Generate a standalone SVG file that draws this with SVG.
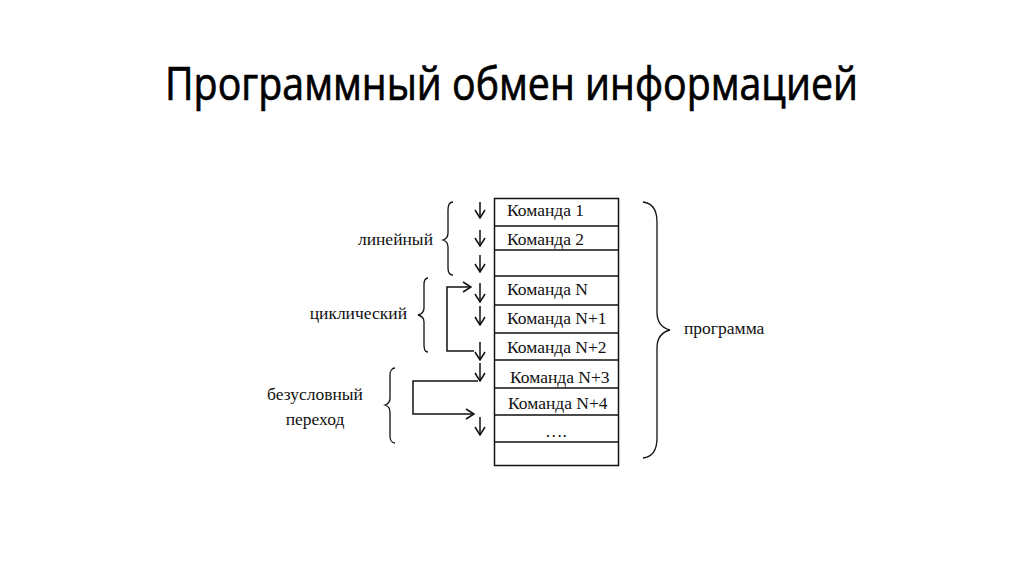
<svg xmlns="http://www.w3.org/2000/svg" width="1024" height="574" viewBox="0 0 1024 574">
<style>
.t{font-family:"Liberation Serif","Times New Roman",serif;font-size:17.5px;fill:#111}
.ln{fill:none;stroke:#111;stroke-width:1.5}
.br{fill:none;stroke:#111;stroke-width:1.3}
.title{font-family:"Open Sans","Noto Sans",sans-serif;font-size:45px;fill:#000;stroke:#000;stroke-width:0.7}
</style>
<defs>
<marker id="ah" viewBox="0 0 10 12" refX="9" refY="6" markerWidth="10" markerHeight="12" markerUnits="userSpaceOnUse" orient="auto">
<path d="M1 1 L9 6 L1 11" fill="none" stroke="#111" stroke-width="1.5"/>
</marker>
</defs>
<rect width="1024" height="574" fill="#fff"/>
<text class="title" x="165" y="100" textLength="693" lengthAdjust="spacingAndGlyphs">Программный обмен информацией</text>

<g id="table">
<rect x="494.5" y="198.5" width="124" height="267" class="ln"/>
<path class="ln" d="M494.5 226H618.5M494.5 250H618.5M494.5 276H618.5M494.5 305H618.5M494.5 333H618.5M494.5 360H618.5M494.5 388H618.5M494.5 415H618.5M494.5 442H618.5"/>
</g>
<g id="cmd1"><text class="t" x="507" y="216">Команда 1</text></g>
<g id="cmd2"><text class="t" x="507" y="245">Команда 2</text></g>
<g id="cmdN"><text class="t" x="507" y="295">Команда N</text></g>
<g id="cmdN1"><text class="t" x="507" y="324">Команда N+1</text></g>
<g id="cmdN2"><text class="t" x="507" y="353">Команда N+2</text></g>
<g id="cmdN3"><text class="t" x="510" y="383">Команда N+3</text></g>
<g id="cmdN4"><text class="t" x="508" y="409">Команда N+4</text></g>
<g id="dots"><text class="t" x="545" y="437">….</text></g>

<g id="connectors">
<path class="ln" d="M480 202V218" marker-end="url(#ah)"/>
<path class="ln" d="M480 230V246" marker-end="url(#ah)"/>
<path class="ln" d="M480 255V272" marker-end="url(#ah)"/>
<path class="ln" d="M480 283V302" marker-end="url(#ah)"/>
<path class="ln" d="M480 306V325" marker-end="url(#ah)"/>
<path class="ln" d="M480 342V360" marker-end="url(#ah)"/>
<path class="ln" d="M480 363V381" marker-end="url(#ah)"/>
<path class="ln" d="M480 417V435" marker-end="url(#ah)"/>
<path class="ln" d="M474 351H447V287H471" marker-end="url(#ah)"/>
<path class="ln" d="M478 381H413V414H474" marker-end="url(#ah)"/>
</g>

<g id="brace-linear">
<path class="br" d="M453 202C449 202 448 205 448 210V233C448 237 446 239 443 240C446 241 448 243 448 247V268C448 272 449 275 453 275"/>
<text class="t" x="433" y="245" text-anchor="end">линейный</text>
</g>
<g id="brace-cyclic">
<path class="br" d="M428 278C425 278 424 281 424 285V308C424 312 422 314 418 315C422 316 424 318 424 322V345C424 349 425 352 428 352"/>
<text class="t" x="407" y="319" text-anchor="end">циклический</text>
</g>
<g id="brace-jump">
<path class="br" d="M395 368C392 368 390 371 390 375V398C390 402 388 404 385 405C388 406 390 408 390 412V436C390 440 392 443 395 443"/>
<text class="t" x="315" y="400" text-anchor="middle">безусловный</text>
<text class="t" x="315" y="425" text-anchor="middle">переход</text>
</g>
<g id="brace-program">
<path class="br" d="M643 202C652 203 657 210 657 222V312C657 322 662 328 670 330C662 332 657 338 657 348V438C657 450 652 457 643 458"/>
<text class="t" x="684" y="334">программа</text>
</g>
</svg>
